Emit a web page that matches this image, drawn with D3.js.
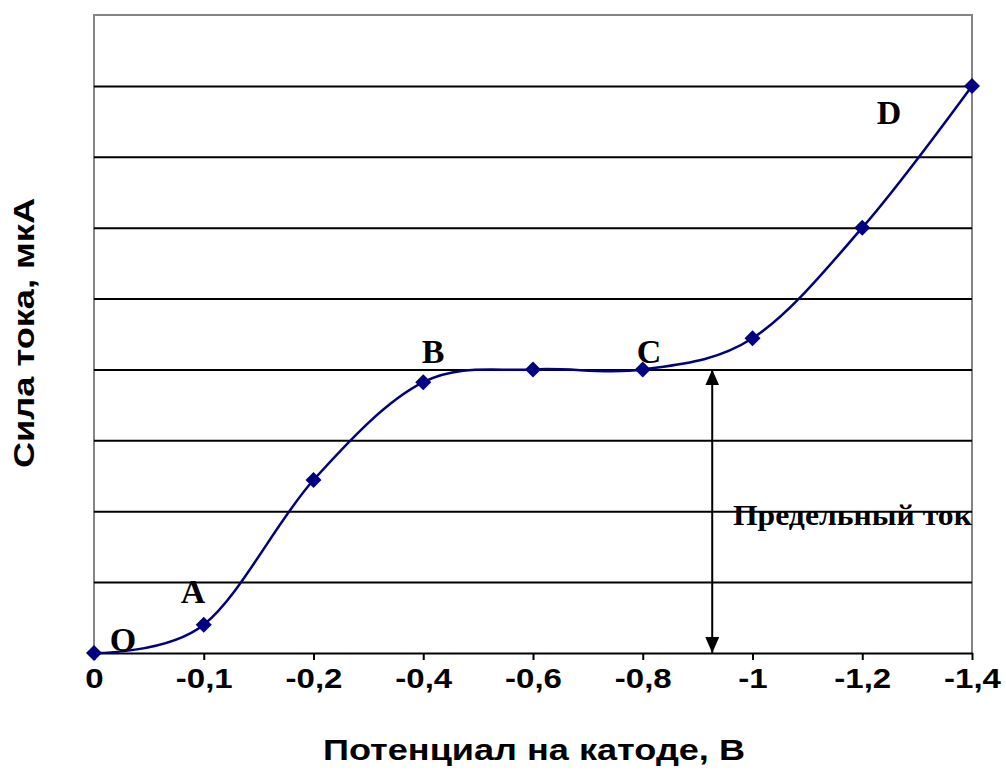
<!DOCTYPE html>
<html>
<head>
<meta charset="utf-8">
<script src="https://cdn.jsdelivr.net/npm/d3@7"></script>
<style>
  body { margin: 0; background: #fff; }
  .sans { font-family: "Liberation Sans", Arial, sans-serif; font-weight: bold; }
  .serif { font-family: "Liberation Serif", "Times New Roman", serif; font-weight: bold; }
</style>
</head>
<body>
<div id="vis"></div>
<script>
// potential on the cathode (category axis) and the current
const categories = ["0", "-0,1", "-0,2", "-0,4", "-0,6", "-0,8", "-1", "-1,2", "-1,4"];
const current = [0, 0.4, 2.44, 3.82, 4, 4, 4.44, 6, 8];
const gridValues = [1, 2, 3, 4, 5, 6, 7, 8];
const pointNames = ["O", "A", "B", "C", "D"];

// frame
const FRAME_WIDTH = 1006;
const FRAME_HEIGHT = 771;
const PLOT = {left: 94, right: 972, top: 15, bottom: 653};

const svg = d3.select("#vis")
  .append("svg")
  .attr("width", FRAME_WIDTH)
  .attr("height", FRAME_HEIGHT);

svg.append("rect")
  .attr("width", FRAME_WIDTH)
  .attr("height", FRAME_HEIGHT)
  .attr("fill", "#fff");

// scales
const X_SCALE = d3.scalePoint()
  .domain(categories)
  .range([PLOT.left, PLOT.right]);

// fractional category index, used for annotations that sit between categories
const X_IDX = d3.scaleLinear()
  .domain([0, categories.length - 1])
  .range([PLOT.left, PLOT.right]);

const Y_SCALE = d3.scaleLinear()
  .domain([0, 9])
  .range([PLOT.bottom, PLOT.top]);

// gray plot border (left, top, right)
svg.append("path")
  .attr("d", "M" + PLOT.left + "," + PLOT.bottom + "V" + PLOT.top +
             "H" + PLOT.right + "V" + PLOT.bottom)
  .attr("fill", "none")
  .attr("stroke", "#858585")
  .attr("stroke-width", 2);

// horizontal gridlines
svg.append("g")
  .attr("transform", "translate(" + PLOT.left + ",0)")
  .call(d3.axisLeft(Y_SCALE)
          .tickValues(gridValues)
          .tickSize(-(PLOT.right - PLOT.left))
          .tickFormat(""))
  .call(g => g.select(".domain").remove())
  .call(g => g.selectAll(".tick line")
                .attr("stroke", "#000")
                .attr("stroke-width", 2));

// x axis
const xAxis = svg.append("g")
  .attr("transform", "translate(0," + PLOT.bottom + ")")
  .call(d3.axisBottom(X_SCALE).tickSizeInner(7).tickSizeOuter(0).tickPadding(28));

xAxis.select(".domain").attr("stroke", "#000").attr("stroke-width", 2);
xAxis.selectAll(".tick line").attr("stroke", "#000").attr("stroke-width", 2);
xAxis.selectAll(".tick text")
  .attr("class", "sans")
  .attr("fill", "#000")
  .attr("font-size", "28px")
  .attr("dy", "0")
  .each(function() {
    const t = d3.select(this);
    t.attr("textLength", this.getComputedTextLength() * 1.18)
     .attr("lengthAdjust", "spacingAndGlyphs");
  });

// limiting-current arrow
const defs = svg.append("defs");
defs.append("marker")
  .attr("id", "head")
  .attr("viewBox", "0 0 16 14")
  .attr("refX", 16)
  .attr("refY", 7)
  .attr("markerWidth", 16)
  .attr("markerHeight", 14)
  .attr("markerUnits", "userSpaceOnUse")
  .attr("orient", "auto-start-reverse")
  .append("path")
  .attr("d", "M0,0 L16,7 L0,14 Z")
  .attr("fill", "#000");

const arrowX = X_IDX(5.633);
svg.append("line")
  .attr("x1", arrowX).attr("x2", arrowX)
  .attr("y1", Y_SCALE(4)).attr("y2", Y_SCALE(0))
  .attr("stroke", "#000")
  .attr("stroke-width", 2)
  .attr("marker-start", "url(#head)")
  .attr("marker-end", "url(#head)");

svg.append("text")
  .attr("class", "serif")
  .attr("x", X_IDX(5.822))
  .attr("y", Y_SCALE(1.806))
  .attr("font-size", "29px")
  .attr("textLength", 239)
  .attr("lengthAdjust", "spacingAndGlyphs")
  .text("Предельный ток");

// smoothed curve
const line = d3.line()
  .x((d, i) => X_SCALE(categories[i]))
  .y(d => Y_SCALE(d))
  .curve(d3.curveCardinal.tension(0));

svg.append("path")
  .datum(current)
  .attr("d", line)
  .attr("fill", "none")
  .attr("stroke", "#000080")
  .attr("stroke-width", 2.5);

// diamond markers
svg.selectAll(".point")
  .data(current)
  .enter()
  .append("path")
    .attr("class", "point")
    .attr("d", "M0,-8L8,0L0,8L-8,0Z")
    .attr("transform", (d, i) => "translate(" + X_SCALE(categories[i]) + "," + Y_SCALE(d) + ")")
    .attr("fill", "#000080");

// point letters, placed in (category index, value) units
const letterPos = [[0.264, 0.028], [0.902, 0.705], [3.089, 4.09], [5.057, 4.09], [7.244, 7.46]];
svg.selectAll(".letter")
  .data(pointNames)
  .enter()
  .append("text")
    .attr("class", "serif letter")
    .attr("x", (d, i) => X_IDX(letterPos[i][0]))
    .attr("y", (d, i) => Y_SCALE(letterPos[i][1]))
    .attr("text-anchor", "middle")
    .attr("font-size", "34px")
    .text(d => d);

// axis titles
svg.append("text")
  .attr("class", "sans")
  .attr("x", 534)
  .attr("y", 760)
  .attr("text-anchor", "middle")
  .attr("font-size", "29px")
  .attr("textLength", 422)
  .attr("lengthAdjust", "spacingAndGlyphs")
  .text("Потенциал на катоде, В");

svg.append("text")
  .attr("class", "sans")
  .attr("transform", "translate(34,333) rotate(-90)")
  .attr("text-anchor", "middle")
  .attr("font-size", "29px")
  .attr("textLength", 270)
  .attr("lengthAdjust", "spacingAndGlyphs")
  .text("Сила тока, мкА");
</script>
</body>
</html>
